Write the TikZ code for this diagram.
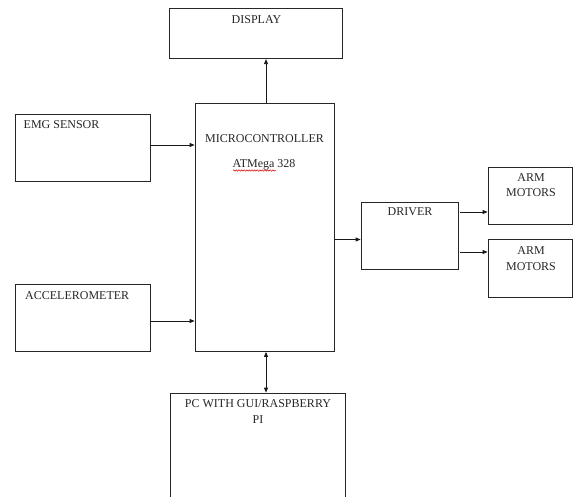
\documentclass[tikz,border=0pt]{standalone}
\usepackage{fontspec}
\setmainfont{Liberation Serif}
\usetikzlibrary{arrows.meta,decorations.pathmorphing}
\begin{document}
\begin{tikzpicture}[x=1bp,y=-1bp,
  box/.style={draw=black!85,line width=0.8bp,rectangle,inner sep=0pt},
  txt/.style={anchor=base,inner sep=0pt,font=\fontsize{12bp}{15.8bp}\selectfont,text=black!85},
  conn/.style={draw=black!90,line width=0.8bp,-{Triangle[length=5bp,width=4bp]}},
  dconn/.style={draw=black!90,line width=0.8bp,{Triangle[length=5bp,width=4bp]}-{Triangle[length=5bp,width=4bp]}}]
\useasboundingbox (0,0) rectangle (573,497);
\clip (0,0) rectangle (573,497);
% boxes
\node[box,minimum width=173bp,minimum height=50.5bp] (disp) at (256.2,33.5) {};
\node[box,minimum width=135bp,minimum height=67bp] (emg) at (82.5,147.5) {};
\node[box,minimum width=135bp,minimum height=67bp] (acc) at (82.5,317.5) {};
\node[box,minimum width=139bp,minimum height=248bp] (mcu) at (264.5,227.5) {};
\node[box,minimum width=97bp,minimum height=67bp] (drv) at (409.5,235.5) {};
\node[box,minimum width=84bp,minimum height=57bp] (arm1) at (530,195.5) {};
\node[box,minimum width=84bp,minimum height=58bp] (arm2) at (530,268) {};
\node[box,minimum width=175.5bp,minimum height=140bp] (pc) at (257.8,463) {};
% texts
\node[txt] (tdisp) at (256.5,24) {DISPLAY};
\node[txt,anchor=base west] (temg) at (23.5,129) {EMG SENSOR};
\node[txt,anchor=base west] (tacc) at (25,299) {ACCELEROMETER};
\node[txt] (tmcu) at (264.5,143) {MICROCONTROLLER};
\node[txt] (tat) at (264,168) {ATMega 328};
\node[txt] (tdrv) at (410,216) {DRIVER};
\node[txt,align=center,anchor=base] (tarm1) at (531,197) {ARM\\MOTORS};
\node[txt,align=center,anchor=base] (tarm2) at (531,270) {ARM\\MOTORS};
\node[txt,align=center,anchor=base] (tpc) at (258,423.5) {PC WITH GUI/RASPBERRY\\PI};
% spell-check squiggle
\coordinate (sq1) at (233,170.5);
\coordinate (sq2) at (276,170.5);
\draw[red!85!black,line width=0.5bp,decorate,decoration={snake,amplitude=0.7bp,segment length=2.6bp}] (sq1) -- (sq2);
% connectors
\draw[conn] (mcu.north -| 266,0) -- (disp.south -| 266,0);
\draw[conn] (emg.east |- 0,145) -- (mcu.west |- 0,145);
\draw[conn] (acc.east |- 0,321) -- (mcu.west |- 0,321);
\draw[conn] (mcu.east |- 0,239.5) -- (drv.west |- 0,239.5);
\draw[conn] (drv.east |- 0,212) ++(2,0) -- (arm1.west |- 0,212);
\draw[conn] (drv.east |- 0,252) ++(2,0) -- (arm2.west |- 0,252);
\draw[dconn] (mcu.south -| 266,0) -- (pc.north -| 266,0);
\end{tikzpicture}
\end{document}
